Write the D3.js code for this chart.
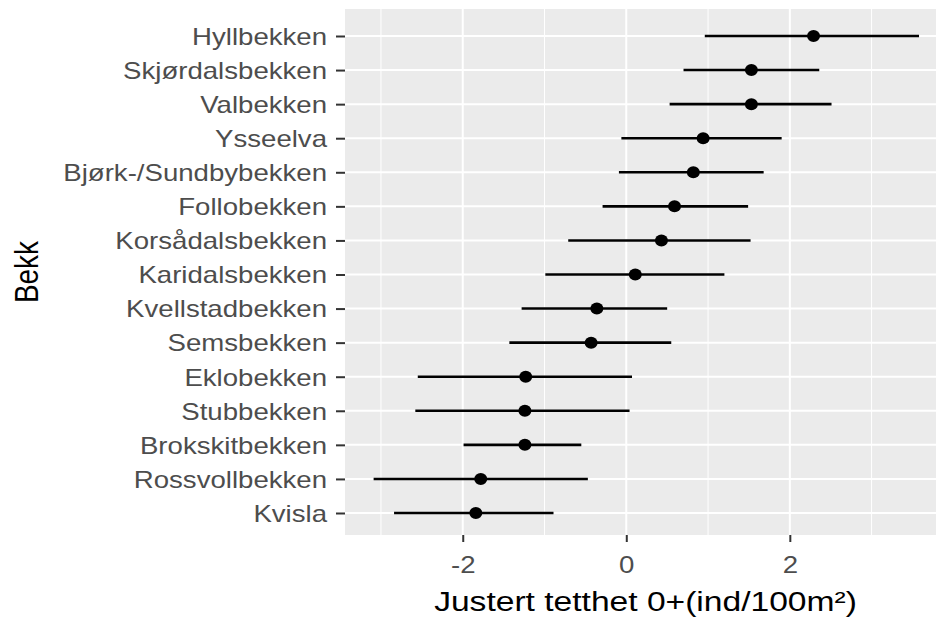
<!DOCTYPE html>
<html>
<head>
<meta charset="utf-8">
<script src="https://cdn.jsdelivr.net/npm/d3@7"></script>
<style>
  body { margin: 0; background: #fff; }
  svg { display: block; font-family: "Liberation Sans", Arial, sans-serif; }
</style>
</head>
<body>
<div id="chart"></div>
<script>
// streams, top to bottom as in the plot
const streams = [
    'Hyllbekken', 'Skjørdalsbekken', 'Valbekken', 'Ysseelva', 'Bjørk-/Sundbybekken',
    'Follobekken', 'Korsådalsbekken', 'Karidalsbekken', 'Kvellstadbekken', 'Semsbekken',
    'Eklobekken', 'Stubbekken', 'Brokskitbekken', 'Rossvollbekken', 'Kvisla'
];
const estimate = [2.29, 1.53, 1.53, 0.94, 0.82, 0.59, 0.43, 0.11, -0.36, -0.43, -1.23, -1.24, -1.24, -1.78, -1.84];
const lower = [0.96, 0.70, 0.53, -0.06, -0.09, -0.29, -0.71, -0.99, -1.28, -1.43, -2.55, -2.58, -1.99, -3.09, -2.84];
const upper = [3.58, 2.36, 2.51, 1.90, 1.68, 1.49, 1.52, 1.20, 0.50, 0.55, 0.07, 0.04, -0.55, -0.47, -0.89];
const majorTicks = [-2, 0, 2];
const minorTicks = [-3, -1, 1, 3];

const width = 936, height = 623;
const panel = { left: 345, right: 946, top: 9, bottom: 535 };
const stretch = 1.2; // the picture's text is wider than it is tall

const svg = d3.select('#chart').append('svg')
    .attr('width', width)
    .attr('height', height);

const x = d3.scaleLinear()
    .domain([-3.44, 3.91])
    .range([panel.left, panel.right]);

const y = d3.scalePoint()
    .domain(streams)
    .range([36, 513]);

// panel background
svg.append('rect')
    .attr('x', panel.left)
    .attr('y', panel.top)
    .attr('width', panel.right - panel.left)
    .attr('height', panel.bottom - panel.top)
    .attr('fill', '#ebebeb');

const grid = svg.append('g');
grid.selectAll('.minor')
    .data(minorTicks)
    .join('line')
    .attr('x1', d => x(d)).attr('x2', d => x(d))
    .attr('y1', panel.top).attr('y2', panel.bottom)
    .attr('stroke', '#fff')
    .attr('stroke-width', 1);
grid.selectAll('.major')
    .data(majorTicks)
    .join('line')
    .attr('x1', d => x(d)).attr('x2', d => x(d))
    .attr('y1', panel.top).attr('y2', panel.bottom)
    .attr('stroke', '#fff')
    .attr('stroke-width', 2);
grid.selectAll('.row')
    .data(streams)
    .join('line')
    .attr('x1', panel.left).attr('x2', panel.right)
    .attr('y1', d => y(d)).attr('y2', d => y(d))
    .attr('stroke', '#fff')
    .attr('stroke-width', 2);

// error bars and points
const marks = svg.append('g');
marks.selectAll('.bar')
    .data(streams)
    .join('line')
    .attr('x1', (d, i) => x(lower[i]))
    .attr('x2', (d, i) => x(upper[i]))
    .attr('y1', d => y(d)).attr('y2', d => y(d))
    .attr('stroke', '#000')
    .attr('stroke-width', 2.6);
marks.selectAll('.pt')
    .data(streams)
    .join('ellipse')
    .attr('cx', (d, i) => x(estimate[i]))
    .attr('cy', d => y(d))
    .attr('rx', 6.5)
    .attr('ry', 6)
    .attr('fill', '#000');

// y axis
const yAxis = svg.append('g')
    .attr('transform', `translate(${panel.left},0)`)
    .call(d3.axisLeft(y).tickSize(9).tickPadding(0));
yAxis.select('.domain').remove();
yAxis.selectAll('.tick line')
    .attr('stroke', '#333')
    .attr('stroke-width', 2);
yAxis.selectAll('.tick text')
    .attr('x', -18 / stretch)
    .attr('dy', '0.36em')
    .attr('transform', `scale(${stretch},1)`)
    .attr('fill', '#4d4d4d')
    .style('font-size', '23px');

// x axis
const xAxis = svg.append('g')
    .attr('transform', `translate(0,${panel.bottom})`)
    .call(d3.axisBottom(x).tickValues(majorTicks).tickSize(7).tickPadding(0).tickFormat(d3.format('d')));
xAxis.select('.domain').remove();
xAxis.selectAll('.tick line')
    .attr('stroke', '#333')
    .attr('stroke-width', 2);
xAxis.selectAll('.tick text')
    .attr('y', 38)
    .attr('dy', 0)
    .attr('transform', `scale(${stretch},1)`)
    .attr('fill', '#4d4d4d')
    .style('font-size', '23px')
    .text(d => d < 0 ? '-' + Math.abs(d) : d);

// titles
svg.append('text')
    .attr('transform', `translate(${(panel.left + panel.right) / 2},611) scale(${stretch},1)`)
    .attr('text-anchor', 'middle')
    .style('font-size', '28px')
    .attr('fill', '#000')
    .text('Justert tetthet 0+(ind/100m²)');

svg.append('text')
    .attr('transform', `translate(38,${(panel.top + panel.bottom) / 2}) rotate(-90) scale(1,${stretch})`)
    .attr('text-anchor', 'middle')
    .style('font-size', '28px')
    .attr('fill', '#000')
    .text('Bekk');
</script>
</body>
</html>
